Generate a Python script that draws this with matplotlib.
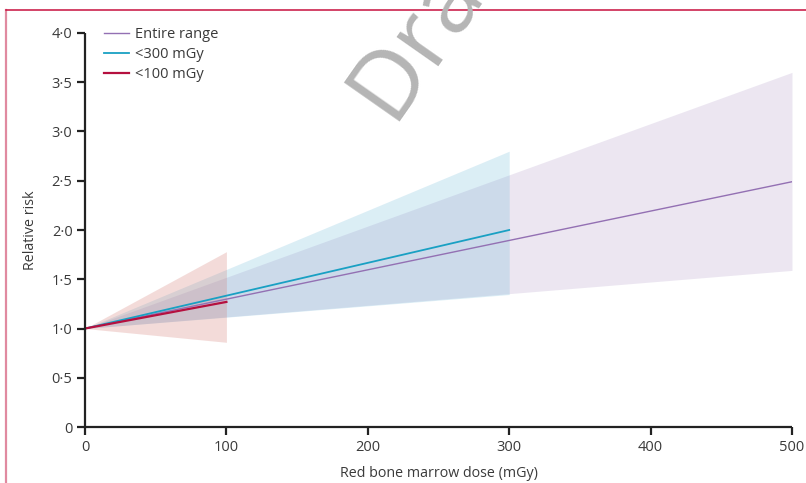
import numpy as np
import matplotlib
matplotlib.use("Agg")
import matplotlib.pyplot as plt
from matplotlib.lines import Line2D
from matplotlib.ticker import FuncFormatter

plt.rcParams['font.family'] = ['Open Sans', 'DejaVu Sans']

# fitted lines: dose (mGy) -> relative risk, with 95% CI at the end point
dose_all = [0, 500]
rr_all = [1.0, 2.49]
lo_all = [1.0, 1.59]
hi_all = [1.0, 3.60]

dose_300 = [0, 300]
rr_300 = [1.0, 2.00]
lo_300 = [1.0, 1.345]
hi_300 = [1.0, 2.80]

dose_100 = [0, 100]
rr_100 = [1.0, 1.27]
lo_100 = [1.0, 0.86]
hi_100 = [1.0, 1.78]

labels = ["Entire range", "<300 mGy", "<100 mGy"]
xticks = [0, 100, 200, 300, 400, 500]
yticks = [0, 0.5, 1.0, 1.5, 2.0, 2.5, 3.0, 3.5, 4.0]

txt = '#3a3a3a'
c_all, f_all = '#9370b3', (0.59, 0.47, 0.71)
c_300, f_300 = '#19a0c3', (0.31, 0.67, 0.82)
c_100, f_100 = '#b5103f', (0.82, 0.45, 0.42)

fig = plt.figure(figsize=(8.06, 4.83), dpi=100)
ax = fig.add_axes([0.1055, 0.1159, 0.8771, 0.8158])

ax.fill_between(dose_all, lo_all, hi_all, color=f_all, alpha=0.18, lw=0)
ax.fill_between(dose_300, lo_300, hi_300, color=f_300, alpha=0.20, lw=0)
ax.fill_between(dose_100, lo_100, hi_100, color=f_100, alpha=0.25, lw=0)
ax.plot(dose_all, rr_all, color=c_all, lw=1.0, label=labels[0])
ax.plot(dose_300, rr_300, color=c_300, lw=1.3, label=labels[1])
ax.plot(dose_100, rr_100, color=c_100, lw=1.6, label=labels[2])

ax.set_xlim(0, 500)
ax.set_ylim(0, 4.0)
ax.set_xticks(xticks)
ax.set_yticks(yticks)
ax.yaxis.set_major_formatter(FuncFormatter(
    lambda v, p: '0' if v == 0 else f'{v:.1f}'.replace('.', '\u00b7')))
for s in ['top', 'right']:
    ax.spines[s].set_visible(False)
for s in ['left', 'bottom']:
    ax.spines[s].set_linewidth(1.6)
    ax.spines[s].set_color('#222222')
    ax.spines[s].set_capstyle('butt')
ax.tick_params(length=6, width=1.6, color='#222222', labelsize=10.5,
               labelcolor=txt, pad=3)

ax.set_xlabel("Red bone marrow dose (mGy)", fontsize=10.3, color=txt, labelpad=8)
ax.set_ylabel("Relative risk", fontsize=10.3, color=txt, labelpad=10)

ax.legend(loc='upper left', bbox_to_anchor=(0.008, 1.048), frameon=False,
          fontsize=10.5, labelcolor=txt, handlelength=1.75, handletextpad=0.4,
          labelspacing=0.35)

# page frame
fig.add_artist(Line2D([6 / 806, 6 / 806], [0, 1 - 10 / 483],
                      transform=fig.transFigure, color='#e08aa0', lw=1.6))
fig.add_artist(Line2D([6 / 806, 1], [1 - 10 / 483, 1 - 10 / 483],
                      transform=fig.transFigure, color='#c8103e', lw=1.1))

fig.text(391 / 806, 1 - 121 / 483, "Draft", rotation=55, rotation_mode='anchor',
         ha='left', va='baseline', fontsize=69, color='#b5b5b5')

fig.savefig("out.png", dpi=100)
